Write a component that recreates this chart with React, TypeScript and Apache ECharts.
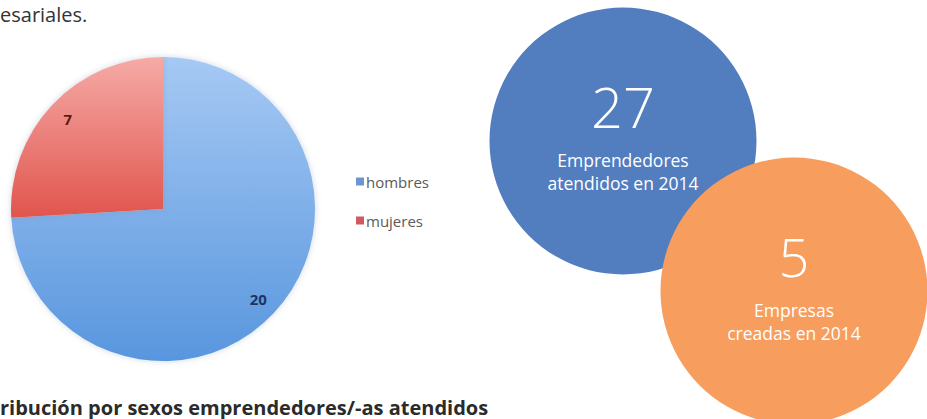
import React, { useEffect, useRef } from "react";
import * as echarts from "echarts";

const sexCategories = ["hombres", "mujeres"];
const sexValues = [20, 7];
const kpiValues = [27, 5];
const kpiLabels = [
  ["Emprendedores", "atendidos en 2014"],
  ["Empresas", "creadas en 2014"],
];
const headText = "esariales.";
const footText = "ribución por sexos emprendedores/-as atendidos";

const FONT = "'Open Sans', 'Noto Sans', sans-serif";

export default function App() {
  const ref = useRef<HTMLDivElement>(null);
  useEffect(() => {
    document.body.style.margin = "0";
    const chart = echarts.init(ref.current!, null, { renderer: "svg" });
    const pieColors = [
      new echarts.graphic.LinearGradient(0, 57, 0, 362, [
        { offset: 0, color: "#a6c9f4" },
        { offset: 1, color: "#5896de" },
      ], true),
      new echarts.graphic.LinearGradient(0, 57, 0, 220, [
        { offset: 0, color: "#f6aaa6" },
        { offset: 1, color: "#e0544c" },
      ], true),
    ];
    const legendColors = ["#6b95cf", "#cf5a63"];
    const pieData = sexCategories.map((n, i) => ({
      name: n,
      value: sexValues[i],
      itemStyle: { color: pieColors[i] },
    }));
    const labelColors = ["#1d3566", "#5c1b17"];
    const kpiColors = ["#527dbf", "#f79d5e"];
    const kpiCenters = [
      [623, 141],
      [794, 291],
    ];
    const kpiSeries = kpiValues.map((v, i) => ({
      type: "pie",
      silent: true,
      z: 3 + i,
      center: kpiCenters[i],
      radius: 133.5,
      startAngle: 90,
      itemStyle: { color: kpiColors[i] },
      label: {
        show: true,
        position: "center",
        offset: [0, -12],
        formatter: () => `{v|${v}}\n{t|${kpiLabels[i][0]}}\n{t|${kpiLabels[i][1]}}`,
        rich: {
          v: {
            fontFamily: FONT,
            fontWeight: 300,
            fontSize: i === 0 ? 56 : 54,
            color: "#ffffff",
            lineHeight: 85,
          },
          t: {
            fontFamily: FONT,
            fontSize: 17.5,
            color: "#ffffff",
            lineHeight: 23,
          },
        },
      },
      labelLine: { show: false },
      data: [{ name: kpiLabels[i].join(" "), value: v }],
    }));
    chart.setOption({
      animation: false,
      legend: {
        orient: "vertical",
        left: 351,
        top: 169,
        itemWidth: 8,
        itemHeight: 8,
        itemGap: 24,
        icon: "rect",
        selectedMode: false,
        textStyle: { fontFamily: FONT, fontSize: 15, color: "#5a5a5a", padding: [0, 0, 0, -3] },
        data: sexCategories.map((n, i) => ({ name: n, itemStyle: { color: legendColors[i] } })),
      },
      graphic: [
        {
          type: "text",
          left: 0,
          top: 3,
          style: { text: headText, fontFamily: FONT, fontSize: 20, lineHeight: 22, fill: "#333333" },
        },
        {
          type: "text",
          left: 0,
          top: 396,
          style: {
            text: footText,
            fontFamily: FONT,
            fontWeight: "bold",
            fontSize: 20,
            lineHeight: 22,
            fill: "#2b2b2b",
          },
        },
      ],
      series: [
        {
          type: "pie",
          silent: true,
          center: [163, 209],
          radius: 152,
          startAngle: 90,
          clockwise: true,
          label: { show: false },
          labelLine: { show: false },
          itemStyle: { shadowBlur: 6, shadowColor: "rgba(120,140,170,0.35)" },
          data: pieData,
        },
        {
          type: "pie",
          silent: true,
          center: [163, 209],
          radius: [104, 152],
          startAngle: 90,
          clockwise: true,
          itemStyle: { color: "transparent" },
          label: {
            show: true,
            position: "inside",
            formatter: (p: any) => `${p.value}`,
            fontFamily: FONT,
            fontWeight: "bold",
            fontSize: 15,
          },
          labelLine: { show: false },
          data: sexCategories.map((n, i) => ({
            name: n,
            value: sexValues[i],
            label: { color: labelColors[i] },
          })),
          legendHoverLink: false,
        },
        ...kpiSeries,
      ],
    });
    return () => chart.dispose();
  }, []);
  return <div ref={ref} style={{ width: 927, height: 419 }} />;
}
